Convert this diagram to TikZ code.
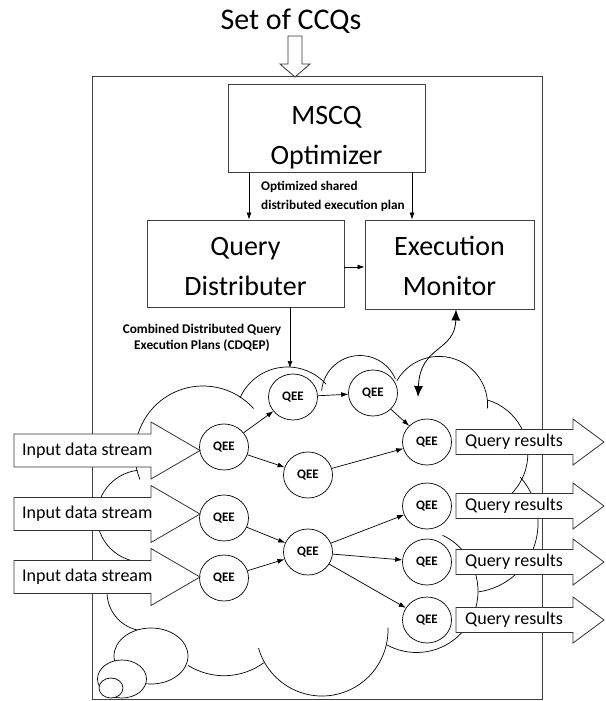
\documentclass[tikz,border=0pt]{standalone}
\usepackage{fontspec}
\setmainfont{Carlito}
\usetikzlibrary{arrows.meta,shapes.geometric}
\begin{document}
\begin{tikzpicture}[x=1pt,y=-1pt,
  boxnode/.style={draw=black!75, line width=0.9pt, inner sep=0pt},
  boxtext/.style={inner sep=0pt, align=center, font=\fontsize{28}{40}\selectfont},
  qee/.style={ellipse, draw, fill=white, line width=0.7pt, minimum width=49pt, minimum height=46pt, inner sep=0pt, font=\fontsize{13}{14}\selectfont\bfseries},
  arr/.style={line width=0.7pt, -{Latex[length=7pt,width=5pt]}},
  dblarr/.style={line width=0.8pt, {Latex[length=11pt,width=9pt]}-{Latex[length=11pt,width=9pt]}},
  hollow/.style={draw=black!80, line width=0.8pt, fill=white},
  cloudline/.style={line width=0.7pt},
  lbl/.style={font=\fontsize{13.2}{19}\selectfont\bfseries, inner sep=0pt},
  streamtxt/.style={font=\fontsize{18}{20}\selectfont, anchor=west, inner sep=0pt}
]
\fill[white] (0,0) rectangle (605,701);
\useasboundingbox (0,0) rectangle (605,701);

% title and input arrow
\node[font=\fontsize{30}{32}\selectfont, anchor=base, inner sep=0pt] (title) at (291,30) {Set of CCQs};
\draw[hollow] (288,36) -- (302,36) -- (302,64) -- (310,64) -- (295,77) -- (280,64) -- (288,64) -- cycle;

% frame
\draw[draw=black!75, line width=0.9pt] (92,76) rectangle (542,699);

% cloud lobes (canvas angles)
\begin{scope}[cloudline]
\draw (203,454) ++(42:68pt) arc[start angle=42, end angle=202, radius=68pt];
\draw (287.5,419) ++(156:52pt) arc[start angle=156, end angle=42, radius=52pt];
\draw (360,394) ++(175:38.5pt) arc[start angle=175, end angle=23, radius=38.5pt];
\draw (439,405) ++(150:48.6pt) arc[start angle=150, end angle=-4, radius=48.6pt];
\draw (471.5,454) ++(74:56.3pt) arc[start angle=74, end angle=-44, radius=56.3pt];
\draw (469,523.5) ++(42:69pt) arc[start angle=42, end angle=-82, radius=69pt];
\draw (416.5,591) ++(65:61.5pt) arc[start angle=65, end angle=-119, radius=61.5pt];
\draw (322,630) ++(-164:66pt) arc[start angle=-164, end angle=2, radius=66pt];
\draw (224,608) ++(-122:67.7pt) arc[start angle=-122, end angle=-54, radius=67.7pt];
\draw (146,592) ++(180:39pt) arc[start angle=180, end angle=257, radius=39pt];
\draw (143,516) ++(97:46pt) arc[start angle=97, end angle=254, radius=46pt];
\draw[fill=white] (151,656) ellipse [x radius=37pt, y radius=28pt];
\draw[fill=white] (122,679) ellipse [x radius=24.5pt, y radius=19pt];
\draw[fill=white] (111,688) ellipse [x radius=12pt, y radius=10pt];
\end{scope}

% boxes
\node[boxnode, minimum width=197pt, minimum height=88pt] (mscq) at (326.5,128) {};
\node[boxnode, minimum width=197pt, minimum height=87pt] (qd) at (245.5,263.5) {};
\node[boxnode, minimum width=169pt, minimum height=89pt] (em) at (449.5,264.5) {};
\node[boxtext] (mscqtxt) at (326.5,138) {MSCQ\\Optimizer};
\node[boxtext] (qdtxt) at (245.5,266.5) {Query\\Distributer};
\node[boxtext] (emtxt) at (449.5,265.5) {Execution\\Monitor};

\coordinate (c1) at (249,200);
\coordinate (c2) at (412,200);
\coordinate (c3) at (350,267);
\coordinate (c4) at (456,330);
\coordinate (cd) at (290,368);
\coordinate (dm) at (418,397);

\draw[arr] (mscq.south -| c1) -- (qd.north -| c1);
\draw[arr] (mscq.south -| c2) -- (em.north -| c2);
\draw[arr] (qd.east |- c3) -- (em.west |- c3);
\draw[arr] (qd.south -| cd) -- (cd);
\draw[dblarr] (em.south -| c4) .. controls (455,352) and (420,345) .. (dm);

\node[lbl, anchor=north west, align=left] (lab1) at (261,181) {Optimized shared\\distributed execution plan};
\node[lbl, align=center, font=\fontsize{13.3}{15.5}\selectfont\bfseries] (lab2) at (202,338) {Combined Distributed Query\\Execution Plans (CDQEP)};

% QEE nodes
\node[qee] (l1) at (224,447) {QEE};
\node[qee] (l2) at (224,518) {QEE};
\node[qee] (l3) at (224,578) {QEE};
\node[qee] (t1) at (293,397) {QEE};
\node[qee] (t2) at (373,393) {QEE};
\node[qee] (m1) at (308,475) {QEE};
\node[qee] (m2) at (308,552) {QEE};
\node[qee] (r1) at (427,442) {QEE};
\node[qee] (r2) at (427,506) {QEE};
\node[qee] (r3) at (427,562) {QEE};
\node[qee] (r4) at (427,620) {QEE};

\draw[arr] (l1) -- (t1);
\draw[arr] (l1) -- (m1);
\draw[arr] (t1) -- (t2);
\draw[arr] (t2) -- (r1);
\draw[arr] (m1) -- (r1);
\draw[arr] (l2) -- (m2);
\draw[arr] (l3) -- (m2);
\draw[arr] (m2) -- (r2);
\draw[arr] (m2) -- (r3);
\draw[arr] (m2) -- (r4);

% input data streams
\foreach \c/\n in {450.5/1,514/2,577/3}{
  \draw[hollow] (14,\c-16.5) -- (151,\c-16.5) -- (151,\c-28.5) -- (200,\c) -- (151,\c+28.5) -- (151,\c+16.5) -- (14,\c+16.5) -- cycle;
  \node[streamtxt] (in\n) at (22,\c) {Input data stream};
}
% query results
\foreach \c/\n in {442/1,506/2,562/3,620/4}{
  \draw[hollow] (456,\c-12.5) -- (573,\c-12.5) -- (573,\c-23) -- (604,\c) -- (573,\c+23) -- (573,\c+12.5) -- (456,\c+12.5) -- cycle;
  \node[streamtxt] (qr\n) at (465,\c) {Query results};
}
\end{tikzpicture}
\end{document}
